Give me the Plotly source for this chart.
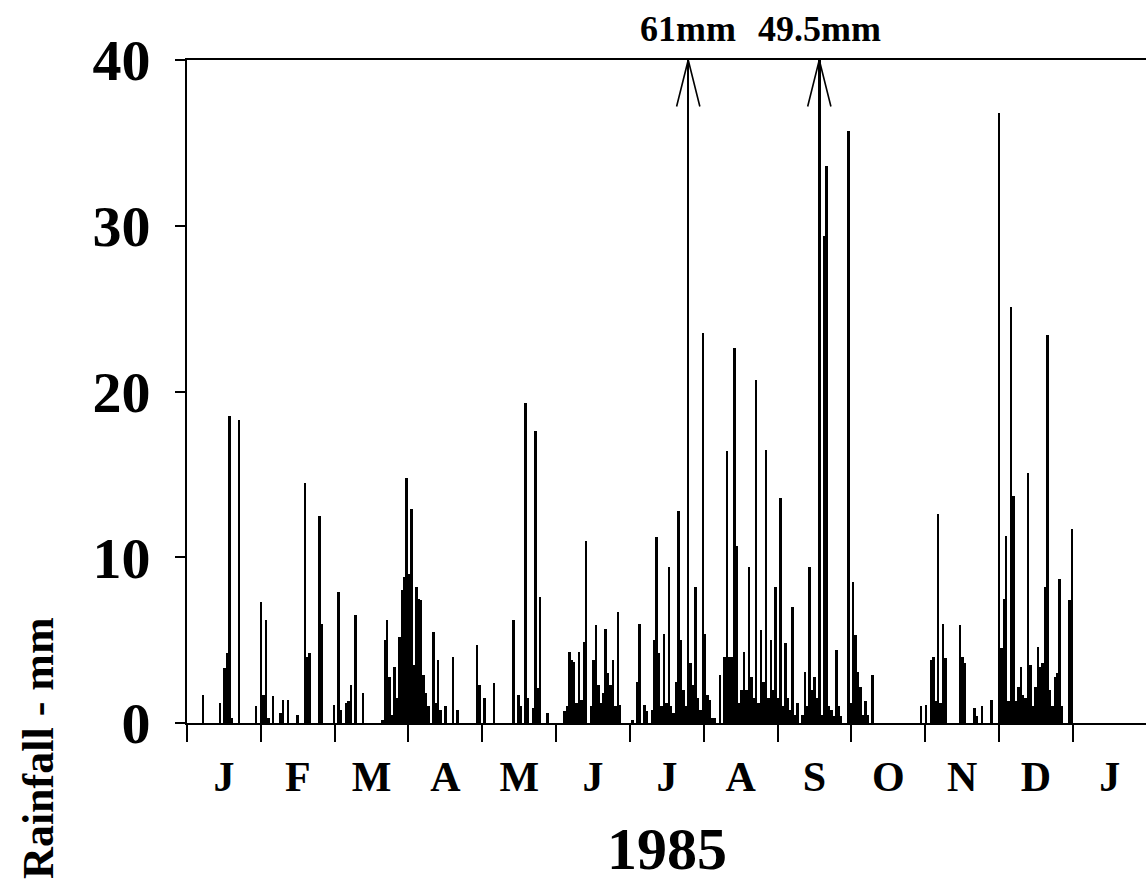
import plotly.graph_objects as go

# ---------------- data: daily rainfall (mm), 1985 ----------------
year_label = "1985"
month_letters = ["J", "F", "M", "A", "M", "J", "J", "A", "S", "O", "N", "D", "J"]
y_ticks = [0, 10, 20, 30, 40]
y_title = "Rainfall - mm"

jan = [0, 0, 0, 0, 0, 0, 1.7, 0, 0, 0, 0, 0, 0, 1.2, 0, 3.3, 4.2, 18.5, 0.3, 0,
       0, 18.3, 0, 0, 0, 0, 0, 0, 1.0, 0, 7.3]
feb = [1.7, 6.2, 0.3, 0, 1.6, 0, 0, 0.6, 1.4, 0, 1.4, 0, 0, 0, 0.5, 0, 0, 14.5, 4.0, 4.2,
       0, 0, 0, 12.5, 6.0, 0, 0, 0]
mar = [0, 1.1, 0, 7.9, 0.8, 0, 1.2, 1.3, 2.3, 0, 6.5, 0, 0, 1.8, 0, 0, 0, 0, 0, 0,
       0, 0.2, 5.0, 6.2, 2.8, 0.5, 3.4, 1.5, 5.2, 8.0, 8.8]
apr = [14.8, 9.0, 12.9, 3.5, 8.2, 7.5, 7.4, 2.9, 1.8, 1.0, 0, 5.5, 1.2, 3.8, 0.8, 0, 1.0, 0, 0, 4.0,
       0, 0.8, 0, 0, 0, 0, 0, 0, 0, 4.7]
may = [2.3, 0, 1.5, 0, 0, 0, 2.4, 0, 0, 0, 0, 0, 0, 0, 6.2, 0, 1.7, 1.0, 0, 19.3,
       1.5, 0, 0.9, 17.6, 2.1, 7.6, 0, 0, 0.6, 0, 0]
jun = [0, 0, 0, 0, 0.7, 1.0, 4.3, 3.8, 3.7, 1.2, 4.3, 1.4, 4.9, 11.0, 0, 1.0, 3.8, 5.9, 2.3, 1.2,
       1.8, 5.7, 3.0, 2.3, 3.8, 1.0, 6.7, 1.1, 0, 0]
jul = [0, 0, 0.2, 0, 2.5, 6.0, 0, 1.1, 0.7, 0, 0.8, 5.0, 11.2, 4.2, 1.0, 5.4, 1.2, 9.4, 1.0, 0.6,
       2.5, 12.8, 5.0, 2.0, 1.0, 61.0, 3.6, 2.3, 8.2, 1.5, 0.8]
aug = [23.5, 5.4, 1.7, 1.4, 0.3, 0.3, 0, 2.9, 0, 4.0, 16.4, 4.0, 4.0, 22.6, 10.7, 1.2, 2.0, 4.3, 2.0, 9.4,
       2.8, 1.5, 20.7, 1.2, 5.6, 2.5, 16.5, 1.5, 5.0, 2.0, 8.2]
sep = [1.5, 13.6, 1.0, 4.8, 1.5, 0.8, 7.0, 0.5, 1.2, 0, 0.5, 3.1, 1.0, 9.4, 2.0, 2.8, 1.5, 49.5, 0.5, 29.4,
       33.6, 1.0, 0.8, 0.4, 4.4, 1.0, 0.4, 0, 0, 35.7]
oct_ = [1.2, 8.5, 5.3, 3.1, 2.2, 0.5, 1.3, 0.5, 0, 2.9, 0, 0, 0, 0, 0, 0, 0, 0, 0, 0,
        0, 0, 0, 0, 0, 0, 0, 0, 0, 1.0, 0]
nov = [1.1, 0, 3.8, 4.0, 1.3, 12.6, 1.2, 6.0, 3.9, 0, 0, 0, 0, 0, 5.9, 4.0, 3.6, 0, 0, 0,
       0.9, 0.4, 0, 1.0, 0, 0, 0, 1.4, 0, 0]
dec = [36.8, 4.5, 7.5, 11.3, 1.3, 25.1, 13.7, 1.3, 2.2, 3.4, 1.7, 1.5, 15.1, 3.5, 1.0, 2.2, 4.6, 3.4, 3.6, 8.2,
       23.4, 2.0, 1.0, 2.8, 3.0, 8.7, 1.0, 0, 0, 7.4, 11.7]

monthly = [jan, feb, mar, apr, may, jun, jul, aug, sep, oct_, nov, dec]

# ---------------- derived ----------------
rain = [v for m in monthly for v in m]
day_center = [i + 0.5 for i in range(len(rain))]
n_days = len(rain)
month_span = n_days / 12.0
boundaries = [i * month_span for i in range(13)]
label_pos = [(i + 0.5) * month_span for i in range(13)]
y_max = y_ticks[-1]
x_max = 395.1

FONT = "Liberation Serif, Times New Roman, serif"

fig = go.Figure()
fig.add_trace(go.Bar(
    x=day_center, y=rain, width=1.0,
    marker=dict(color="black", line=dict(width=0)),
    hoverinfo="x+y", showlegend=False,
))

# off-scale days: arrowheads at the top and value labels
for xv, v in zip(day_center, rain):
    if v > y_max:
        for side in (-1, 1):
            fig.add_annotation(
                x=xv, y=y_max, xref="x", yref="y",
                ax=side * 12, ay=48, text="", showarrow=True,
                arrowhead=0, arrowwidth=1.6, arrowcolor="black",
            )
        fig.add_annotation(
            x=xv, y=1.047, xref="x", yref="paper", text=f"{v:g}mm",
            showarrow=False, xanchor="center", yanchor="middle",
            font=dict(family=FONT, size=36, color="black", weight="bold"),
        )

fig.add_annotation(
    x=0.5, y=-0.19, xref="paper", yref="paper", text=year_label,
    showarrow=False, xanchor="center", yanchor="middle",
    font=dict(family=FONT, size=60, color="black", weight="bold"),
)
fig.add_annotation(
    x=-0.155, y=-0.037, xref="paper", yref="paper", text=y_title,
    textangle=-90, showarrow=False, xanchor="center", yanchor="middle",
    font=dict(family=FONT, size=44, color="black", weight="bold"),
)

fig.update_layout(
    width=1146, height=885,
    margin=dict(l=187, r=0, t=60, b=162, pad=0),
    paper_bgcolor="white", plot_bgcolor="white",
    bargap=0, showlegend=False,
    xaxis=dict(
        range=[0, x_max], showgrid=False, zeroline=False,
        showline=True, linecolor="black", linewidth=2, mirror=True,
        tickmode="array", tickvals=label_pos, ticktext=month_letters, ticks="",
        tickfont=dict(family=FONT, size=42, color="black", weight="bold"),
        ticklabelstandoff=16,
        minor=dict(tickmode="array", tickvals=boundaries, ticks="outside",
                   ticklen=17, tickwidth=2, tickcolor="black", showgrid=False),
    ),
    yaxis=dict(
        range=[0, y_max], showgrid=False, zeroline=False,
        showline=True, linecolor="black", linewidth=2, mirror=False,
        tickmode="array", tickvals=y_ticks, ticks="outside", ticklen=10,
        tickwidth=2, tickcolor="black",
        tickfont=dict(family=FONT, size=58, color="black", weight="bold"),
        ticklabelstandoff=13,
    ),
)

fig.write_html("out.html", config={"displayModeBar": False},
               post_script="document.body.style.margin='0';")
